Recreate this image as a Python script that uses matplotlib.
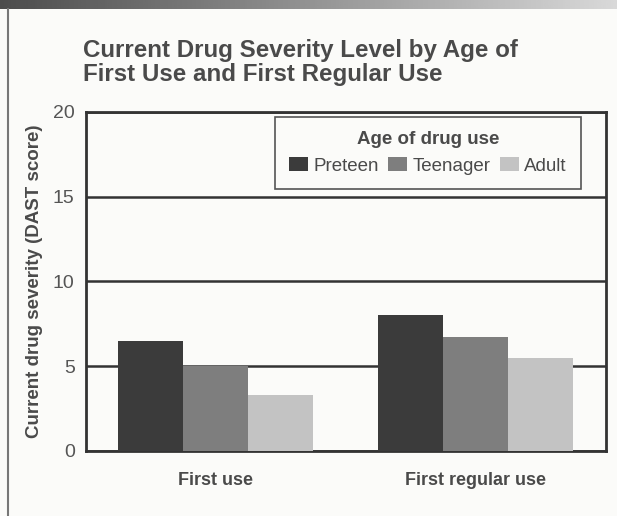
import numpy as np
import matplotlib
matplotlib.use("Agg")
import matplotlib.pyplot as plt

plt.rcParams['font.family'] = ['Liberation Sans Narrow', 'Liberation Sans', 'DejaVu Sans']

groups = ["First use", "First regular use"]
series = ["Preteen", "Teenager", "Adult"]
preteen = [6.5, 8.0]
teenager = [5.0, 6.7]
adult = [3.3, 5.5]
colors = ["#3b3b3b", "#7e7e7e", "#c3c3c3"]
yticks = [0, 5, 10, 15, 20]

bg = "#fbfbf9"
dark = "#333333"
grey_text = "#4a4a4a"

fig = plt.figure(figsize=(6.17, 5.16), dpi=100, facecolor=bg)

# top banner strip (gradient) and left frame line
banner = fig.add_axes([0, 0.982, 1, 0.018])
banner.imshow(np.linspace(0.3, 0.85, 256).reshape(1, -1), cmap='gray', aspect='auto', vmin=0, vmax=1)
banner.axis('off')
fig.add_artist(plt.Line2D([0.013, 0.013], [0, 0.982], color="#777777", lw=1.5))

ax = fig.add_axes([0.139, 0.126, 0.843, 0.657])
ax.set_facecolor(bg)

x = np.arange(len(groups))
w = 0.25
for i, (vals, name) in enumerate(zip([preteen, teenager, adult], series)):
    ax.bar(x + (i - 1) * w, vals, width=w, color=colors[i], label=name, zorder=3)

ax.set_xlim(-0.5, 1.5)
ax.set_ylim(0, 20)
ax.set_yticks(yticks)
ax.set_xticks(x)
ax.set_xticklabels(groups, fontsize=13, fontweight='bold', color=grey_text)
ax.tick_params(axis='both', length=0)
ax.tick_params(axis='x', pad=15)
ax.tick_params(axis='y', pad=8, labelsize=14, labelcolor="#555555")
ax.yaxis.grid(True, color=dark, lw=1.8, zorder=1)
for s in ax.spines.values():
    s.set_color(dark)
    s.set_linewidth(2)

ax.set_ylabel("Current drug severity (DAST score)", fontsize=13.5, fontweight='bold',
              color=grey_text, labelpad=7)

leg = ax.legend(loc='upper right', bbox_to_anchor=(0.952, 0.986), ncol=3,
                title="Age of drug use", fontsize=13.5, title_fontsize=13.5,
                frameon=True, fancybox=False, edgecolor="#555555",
                handlelength=1.0, handleheight=0.8, handletextpad=0.3,
                columnspacing=0.5, borderpad=0.75, borderaxespad=0)
leg.get_title().set_fontweight('bold')
leg.get_title().set_color(grey_text)
for t in leg.get_texts():
    t.set_color(grey_text)
leg.get_frame().set_linewidth(1.2)
leg.get_frame().set_facecolor(bg)
leg.get_frame().set_alpha(1)

fig.text(0.135, 0.879, "Current Drug Severity Level by Age of\nFirst Use and First Regular Use",
         fontsize=17.4, fontweight='bold', color=grey_text, ha='left', va='center',
         linespacing=1.05)

fig.savefig("out.png", dpi=100, facecolor=bg)
